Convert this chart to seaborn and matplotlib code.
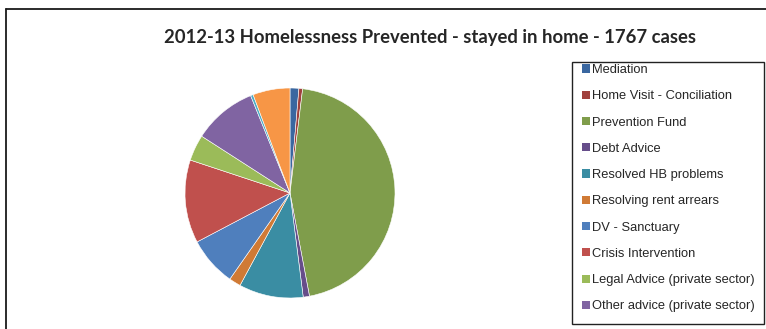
import matplotlib
matplotlib.use("Agg")
import matplotlib.pyplot as plt
from matplotlib.lines import Line2D
from matplotlib.patches import Patch, Rectangle
import seaborn as sns

sns.set_theme(style="white")
plt.rcParams['font.family'] = ['Liberation Sans', 'DejaVu Sans']

title = "2012-13 Homelessness Prevented - stayed in home - 1767 cases"
categories = ["Mediation", "Home Visit - Conciliation", "Prevention Fund", "Debt Advice",
              "Resolved HB problems", "Resolving rent arrears", "DV - Sanctuary",
              "Crisis Intervention", "Legal Advice (private sector)",
              "Other advice (private sector)", "Mortgage Rescue", "Other"]
cases = [24, 10, 797, 17, 175, 32, 134, 226, 71, 173, 7, 101]
colors = ["#3A67A0", "#A0403D", "#7F9D4B", "#664D8A", "#3A8DA3", "#D07A35",
          "#4F7FBD", "#C0504D", "#9BBB59", "#8064A2", "#4BACC6", "#F79646"]
legend_shown = 10  # the box in the reference only shows the first ten entries

W, H = 766, 329
fig = plt.figure(figsize=(W / 100, H / 100), dpi=100)

# chart border (only top and left edges visible in the reference)
fig.add_artist(Line2D([6 / W, 1], [1 - 9 / H, 1 - 9 / H], color="#1a1a1a", lw=1.3,
                      transform=fig.transFigure))
fig.add_artist(Line2D([6 / W, 6 / W], [0, 1 - 9 / H], color="#1a1a1a", lw=1.3,
                      transform=fig.transFigure))

cx, cy, r = 290, 193, 105
ax = fig.add_axes([(cx - r) / W, (H - cy - r) / H, 2 * r / W, 2 * r / H])
ax.pie(cases, colors=colors, startangle=90, counterclock=False,
       wedgeprops=dict(linewidth=0.4, edgecolor="white"))
ax.set_xlim(-1, 1)
ax.set_ylim(-1, 1)
ax.set_aspect("equal")
ax.axis("off")

fig.text(430 / W, 1 - 43 / H, title, ha="center", va="baseline",
         fontsize=13.3, fontweight="bold", family=["Lato", "DejaVu Sans"])

# legend box (clipped at the bottom like the reference)
fig.add_artist(Rectangle((572 / W, 1 - 324 / H), (764 - 572) / W, (324 - 62) / H,
                         transform=fig.transFigure, facecolor="none",
                         edgecolor="#222222", linewidth=1.0))

handles = [Patch(facecolor=c, edgecolor="none") for c in colors[:legend_shown]]
leg = fig.legend(handles, categories[:legend_shown], loc="upper left",
                 bbox_to_anchor=(582 / W, 1 - 64 / H), frameon=False,
                 fontsize=9.3, handlelength=0.6, handleheight=0.6,
                 handletextpad=0.2, labelspacing=1.105, borderpad=0,
                 borderaxespad=0)

fig.savefig("out.png", dpi=100)
